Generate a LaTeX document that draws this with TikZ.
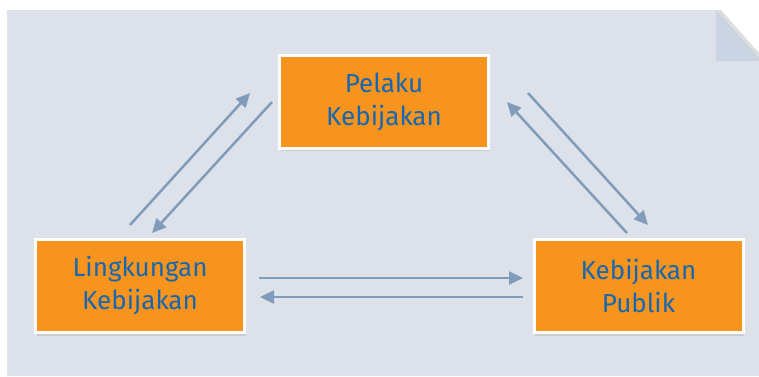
\documentclass[tikz,border=0pt]{standalone}
\usepackage{fontspec}
\setmainfont{Fira Sans}
\usetikzlibrary{shadows,arrows.meta}
\definecolor{bgc}{HTML}{DDE2EA}
\definecolor{foldc}{HTML}{C9D3E1}
\definecolor{boxc}{HTML}{F7941E}
\definecolor{txtc}{HTML}{1767B0}
\definecolor{arrc}{HTML}{819CBB}
\tikzset{
  boxnode/.style={draw=white, line width=3pt, fill=boxc, minimum width=209pt, minimum height=93pt,
    inner sep=0pt, align=center, text=txtc, font=\fontsize{26}{33}\selectfont,
    drop shadow={opacity=0.22, shadow xshift=1pt, shadow yshift=-3pt}},
  link/.style={draw=arrc, line width=2.5pt, -{Triangle[length=14pt,width=13pt]}}
}
\begin{document}
\begin{tikzpicture}[x=1pt,y=-1pt]
\useasboundingbox (0,0) rectangle (759,376);
\fill[white] (0,0) rectangle (759,376);
\fill[bgc] (7,10) -- (716,10) -- (759,58) -- (759,376) -- (7,376) -- cycle;
\fill[black!25, opacity=0.5] (716,10) -- (721,10) -- (759,53) -- (759,61) -- cycle;
\fill[foldc] (716,10) -- (759,59) -- (759,61) -- (716,61) -- cycle;
\node[boxnode] (P) at (384,101.5) {Pelaku\\Kebijakan};
\node[boxnode] (L) at (140,286) {Lingkungan\\Kebijakan};
\node[boxnode] (K) at (638.5,286) {Kebijakan\\Publik};
\coordinate (a1) at (130,225); \coordinate (a2) at (250,93);
\coordinate (b1) at (272,102); \coordinate (b2) at (152,233);
\coordinate (c1) at (627,233); \coordinate (c2) at (507,102);
\coordinate (d1) at (528,93);  \coordinate (d2) at (648,225);
\coordinate (e1) at (259,278); \coordinate (e2) at (523,278);
\coordinate (f1) at (523,297); \coordinate (f2) at (260,297);
\draw[link] (a1) -- (a2);
\draw[link] (b1) -- (b2);
\draw[link] (c1) -- (c2);
\draw[link] (d1) -- (d2);
\draw[link] (e1) -- (e2);
\draw[link] (f1) -- (f2);
\end{tikzpicture}
\end{document}
